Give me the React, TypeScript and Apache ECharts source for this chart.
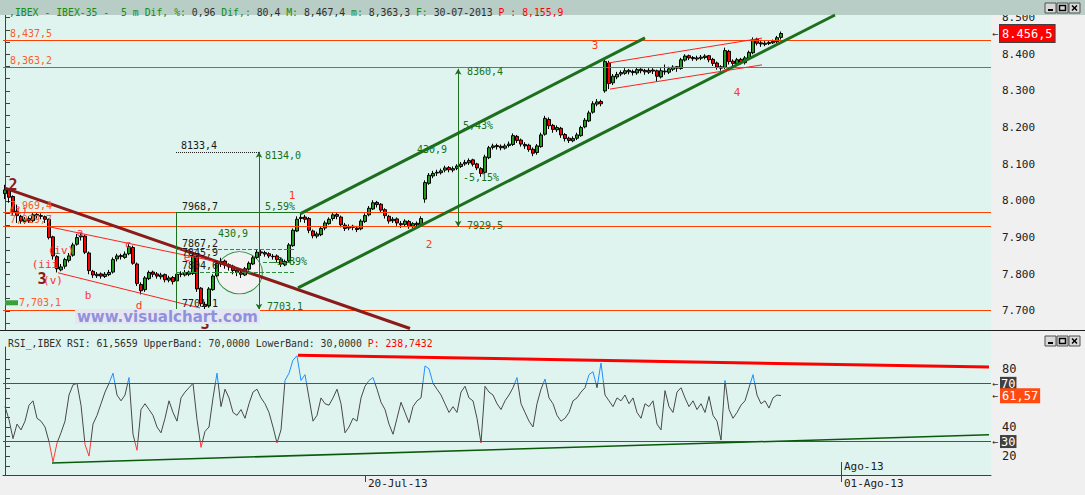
import React, { useEffect, useRef } from 'react';
import * as echarts from 'echarts';

const FONT = '"DejaVu Sans Mono", monospace';
const SLOTS = 247;

// x-axis labels (category index -> text)
const dateLabelIndex = [90, 209];
const dateLabels = ['20-Jul-13', '01-Ago-13'];
const monthLabelIndex = [209];
const monthLabels = ['Ago-13'];

// y-axis labels
const priceLabels = [7700, 7800, 7900, 8000, 8100, 8200, 8300, 8400, 8500];
const rsiLabels = [20, 40, 80];
const rsiMinorTicks = [86.67, 80, 73.33, 66.67, 60, 53.33, 46.67, 40, 33.33, 26.67, 20, 13.33];

// 5-minute candles: [open, close, low, high]
const candles: number[][] = [
  [8020, 8030, 8005, 8044], [8030, 8010, 7995, 8035], [8012, 7970, 7962, 8015], [7972, 7960, 7940, 7990],
  [7958, 7945, 7938, 7962], [7944, 7950, 7938, 7956], [7952, 7945, 7940, 7958], [7946, 7962, 7942, 7968],
  [7963, 7960, 7952, 7969], [7960, 7958, 7950, 7966], [7957, 7950, 7940, 7960], [7950, 7900, 7895, 7952],
  [7902, 7850, 7840, 7905], [7848, 7815, 7805, 7852], [7812, 7820, 7808, 7828], [7822, 7840, 7815, 7845],
  [7838, 7850, 7832, 7858], [7852, 7880, 7848, 7886], [7882, 7900, 7878, 7910], [7902, 7905, 7892, 7912],
  [7904, 7860, 7855, 7908], [7858, 7810, 7800, 7862], [7808, 7798, 7790, 7812], [7796, 7800, 7790, 7806],
  [7801, 7795, 7788, 7805], [7794, 7800, 7790, 7806], [7799, 7805, 7795, 7812], [7806, 7840, 7802, 7846],
  [7842, 7850, 7835, 7856], [7851, 7848, 7840, 7856], [7846, 7855, 7842, 7862], [7856, 7875, 7852, 7882],
  [7873, 7830, 7826, 7878], [7828, 7775, 7768, 7832], [7772, 7755, 7745, 7778], [7758, 7790, 7752, 7795],
  [7788, 7805, 7784, 7810], [7806, 7800, 7792, 7810], [7801, 7795, 7788, 7806], [7793, 7798, 7786, 7804],
  [7799, 7785, 7778, 7802], [7784, 7790, 7778, 7796], [7791, 7780, 7772, 7795], [7782, 7800, 7778, 7806],
  [7801, 7800, 7792, 7808], [7798, 7805, 7794, 7812], [7806, 7800, 7795, 7810], [7802, 7850, 7798, 7858],
  [7848, 7760, 7752, 7852], [7762, 7720, 7712, 7765], [7718, 7712, 7701, 7725], [7714, 7760, 7710, 7765],
  [7758, 7795, 7755, 7800], [7796, 7830, 7792, 7836], [7828, 7835, 7820, 7845], [7836, 7825, 7815, 7840],
  [7826, 7820, 7810, 7830], [7822, 7810, 7800, 7826], [7811, 7805, 7795, 7815], [7806, 7800, 7790, 7810],
  [7798, 7815, 7795, 7820], [7814, 7830, 7810, 7835], [7828, 7845, 7825, 7850], [7846, 7860, 7842, 7867],
  [7861, 7858, 7850, 7866], [7859, 7855, 7848, 7864], [7856, 7850, 7844, 7860], [7849, 7848, 7840, 7855],
  [7850, 7840, 7832, 7854], [7841, 7828, 7820, 7845], [7826, 7835, 7822, 7840], [7836, 7880, 7832, 7885],
  [7878, 7920, 7875, 7925], [7918, 7950, 7915, 7958], [7952, 7955, 7942, 7966], [7956, 7950, 7940, 7962],
  [7952, 7920, 7912, 7956], [7918, 7905, 7898, 7922], [7904, 7910, 7898, 7916], [7908, 7925, 7904, 7930],
  [7926, 7940, 7920, 7946], [7938, 7950, 7935, 7955], [7952, 7962, 7946, 7968], [7963, 7958, 7950, 7968],
  [7956, 7935, 7928, 7960], [7934, 7925, 7918, 7940], [7926, 7930, 7920, 7936], [7931, 7928, 7920, 7935],
  [7926, 7922, 7915, 7932], [7924, 7945, 7920, 7950], [7944, 7960, 7940, 7966], [7962, 7980, 7958, 7986],
  [7978, 7995, 7975, 8002], [7996, 7990, 7982, 8000], [7991, 7975, 7968, 7994], [7976, 7960, 7952, 7980],
  [7958, 7945, 7938, 7962], [7946, 7950, 7940, 7956], [7951, 7940, 7932, 7955], [7938, 7935, 7926, 7945],
  [7936, 7945, 7930, 7950], [7944, 7930, 7924, 7948], [7931, 7938, 7926, 7942], [7939, 7935, 7928, 7944],
  [7936, 7952, 7932, 7958], [8005, 8050, 7995, 8056], [8048, 8070, 8044, 8076], [8068, 8075, 8062, 8082],
  [8076, 8078, 8068, 8085], [8077, 8082, 8072, 8088], [8084, 8090, 8078, 8096], [8091, 8085, 8078, 8095],
  [8084, 8088, 8078, 8094], [8089, 8095, 8084, 8100], [8094, 8100, 8090, 8106], [8101, 8105, 8096, 8112],
  [8104, 8110, 8098, 8116], [8112, 8100, 8094, 8115], [8101, 8090, 8084, 8104], [8088, 8075, 8066, 8092],
  [8078, 8120, 8074, 8126], [8118, 8145, 8114, 8150], [8146, 8150, 8140, 8156], [8151, 8148, 8140, 8156],
  [8149, 8145, 8138, 8154], [8144, 8150, 8140, 8156], [8151, 8155, 8146, 8162], [8154, 8178, 8150, 8184],
  [8176, 8165, 8158, 8180], [8166, 8155, 8148, 8170], [8154, 8150, 8142, 8160], [8152, 8140, 8134, 8156],
  [8141, 8130, 8122, 8146], [8132, 8150, 8126, 8155], [8148, 8180, 8145, 8186], [8182, 8225, 8178, 8232],
  [8222, 8205, 8196, 8228], [8206, 8195, 8186, 8210], [8194, 8200, 8188, 8206], [8198, 8180, 8172, 8202],
  [8181, 8170, 8162, 8185], [8171, 8165, 8158, 8175], [8164, 8170, 8160, 8176], [8171, 8180, 8166, 8186],
  [8178, 8200, 8175, 8205], [8202, 8220, 8198, 8226], [8218, 8240, 8215, 8246], [8242, 8265, 8238, 8272],
  [8264, 8270, 8258, 8278], [8271, 8265, 8258, 8276], [8300, 8380, 8295, 8388], [8376, 8320, 8305, 8382],
  [8322, 8340, 8316, 8346], [8338, 8345, 8332, 8352], [8346, 8350, 8340, 8356], [8348, 8355, 8344, 8362],
  [8356, 8352, 8345, 8360], [8353, 8350, 8342, 8358], [8349, 8358, 8344, 8364], [8359, 8355, 8348, 8362],
  [8356, 8352, 8344, 8360], [8351, 8356, 8346, 8362], [8357, 8354, 8346, 8362], [8355, 8340, 8325, 8358],
  [8338, 8355, 8334, 8362], [8354, 8352, 8344, 8372], [8351, 8360, 8346, 8366], [8359, 8365, 8354, 8370],
  [8366, 8362, 8352, 8368], [8361, 8385, 8358, 8390], [8384, 8395, 8380, 8400], [8396, 8390, 8384, 8399],
  [8391, 8388, 8382, 8395], [8387, 8390, 8382, 8396], [8389, 8392, 8384, 8398], [8391, 8395, 8386, 8400],
  [8396, 8385, 8378, 8398], [8386, 8375, 8368, 8390], [8376, 8365, 8358, 8380], [8366, 8362, 8355, 8370],
  [8364, 8410, 8360, 8418], [8408, 8380, 8372, 8412], [8381, 8375, 8366, 8386], [8374, 8385, 8370, 8390],
  [8386, 8378, 8372, 8390], [8377, 8390, 8372, 8395], [8388, 8405, 8384, 8410], [8404, 8440, 8400, 8446],
  [8441, 8430, 8424, 8445], [8431, 8428, 8420, 8436], [8427, 8430, 8422, 8436], [8429, 8432, 8425, 8438],
  [8431, 8435, 8428, 8440], [8434, 8445, 8430, 8450], [8446, 8456.5, 8440, 8462],
];

// RSI values, one per candle
const rsiValues: number[] = [
  54, 45, 32, 42, 38, 44, 55, 58, 46, 44, 40, 30, 16, 29, 36, 44, 62, 69, 70, 55,
  28, 20, 42, 48, 56, 64, 70, 77, 62, 58, 62, 74, 35, 24, 52, 56, 52, 48, 40, 36,
  46, 58, 50, 44, 60, 64, 67, 70, 45, 26, 37, 40, 60, 77, 54, 66, 60, 50, 48, 52,
  46, 56, 64, 66, 60, 56, 50, 40, 29, 38, 72, 77, 86, 89, 72, 76, 60, 44, 48, 60,
  56, 55, 60, 66, 56, 36, 40, 46, 44, 60, 68, 72, 74, 66, 57, 52, 42, 35, 46, 57,
  50, 43, 54, 58, 60, 82, 80, 70, 66, 62, 56, 50, 54, 50, 64, 68, 60, 58, 46, 29,
  68, 64, 62, 56, 52, 58, 62, 67, 74, 56, 50, 44, 40, 56, 66, 73, 60, 56, 48, 44,
  46, 50, 58, 60, 64, 67, 76, 78, 67, 84, 62, 58, 54, 60, 58, 62, 56, 60, 50, 46,
  56, 54, 58, 42, 38, 65, 54, 50, 64, 67, 60, 54, 58, 52, 56, 50, 61, 48, 44, 31,
  72, 52, 46, 50, 55, 58, 67, 76, 62, 56, 58, 53, 60, 62, 61.57,
];

// horizontal price levels
const levelValues = [8437.5, 8363.2, 7969.4, 7929.7, 7703.1];
const levelLabels = ['8,437,5', '8,363,2', '7,969,4', '7,929,7', '7,703,1'];
const lastPrice = 8456.5;
const lastPriceLabel = '8.456,5';
const rsiUpper = 70;
const rsiLower = 30;
const rsiLast = 61.57;
const rsiLastLabel = '61,57';

// drawn lines, in [bar index, value]
const maroonLine = [[0, 8035], [101.25, 7652]];
const wedgeUpper = [[11.25, 7929], [53, 7834]];
const wedgeLower = [[13.25, 7804], [48.75, 7708]];
const channelUpper = [[73.75, 7964.5], [160, 8444.5]];
const channelLower = [[73.25, 7762.7], [207.5, 8507]];
const flagUpper = [[150.75, 8376], [189.25, 8444]];
const flagLower = [[151.25, 8305], [189.25, 8371]];
const measureA = [[63.5, 8134.0], [63.5, 7703.1]];
const measureB = [[113.3, 8360.4], [113.3, 7929.5]];
const boxTop = [[42.75, 7968.7], [73.5, 7968.7]];
const boxLeft = [[42.75, 7968.7], [42.75, 7703.1]];
const dotted8133 = [[42.75, 8133.4], [63.5, 8133.4]];
const dashLevels = [[[42.75, 7867.2], [72.5, 7867.2]], [[42.75, 7804.6], [72.5, 7804.6]], [[64.5, 7834], [72.5, 7834]]];
const ellipseCenter = [[58.6, 7804]];
const rsiResistance = [[73.25, 89.4], [246, 81.2]];
const rsiSupport = [[11.75, 15.3], [246, 34.6]];

// annotation texts [bar index, value, text]
const blackNotes: [number, number, string][] = [
  [44, 8150, '8133,4'], [44.25, 7984, '7968,7'], [44.25, 7885, '7867,2'],
  [44.25, 7858, '7845,9'], [44.25, 7823, '7804,6'], [44.25, 7719, '7701,1'],
];
const greenNotes: [number, number, string][] = [
  [65, 8125, '8134,0'], [65, 7984, '5,59%'], [53.25, 7910, '430,9'], [66.5, 7834, '-3,89%'],
  [65.5, 7711, '7703,1'], [115.5, 8352, '8360,4'], [115.5, 7932, '7929,5'],
  [114.5, 8207, '5,43%'], [114.5, 8063, '-5,15%'], [103, 8139, '430,9'],
];
const waveNotes: [number, number, string][] = [
  [71.75, 8014, '1'], [106, 7880, '2'], [147.5, 8423, '3'], [183, 8295, '4'],
];
const subWaveNotes: [number, number, string][] = [
  [3.25, 7975, '(i)'], [10, 7827, '(iii'], [14, 7864, '(iv)'], [12, 7784, '(v)'],
  [18.75, 7915, 'a'], [20.75, 7741, 'b'], [30.75, 7880, 'c'], [33.5, 7714, 'd'], [45.5, 7847, 'e'],
];
const majorWaveNotes: [number, number, string][] = [[2, 8044, '2'], [9.25, 7787, '3'], [50, 7665, '3']];

const note = (n: [number, number, string], color: string, size: number, pos: string, bold = false) => ({
  coord: [n[0], n[1]],
  symbol: 'circle',
  symbolSize: 0,
  itemStyle: { color: 'transparent' },
  label: {
    show: true, position: pos, distance: 0, formatter: n[2], color, fontSize: size,
    fontFamily: FONT, fontWeight: bold ? 'bold' : 'normal',
  },
});

const seg = (pts: number[][], color: string, width: number, type = 'solid', arrows = false) => [
  { coord: pts[0], symbol: arrows ? 'arrow' : 'none', symbolSize: [5, 6], lineStyle: { color, width, type } },
  { coord: pts[1], symbol: arrows ? 'arrow' : 'none', symbolSize: [5, 6] },
];

function buttons(y0: number) {
  const els: any[] = [];
  [1045, 1057, 1069].forEach((x, k) => {
    els.push({ type: 'rect', z: 20, shape: { x, y: y0, width: 11, height: 10 }, style: { fill: '#d8d8d8', stroke: '#505050', lineWidth: 1 } });
    if (k === 0) els.push({ type: 'rect', z: 21, shape: { x: x + 3, y: y0 + 6, width: 5, height: 2 }, style: { fill: '#000' } });
    if (k === 1) els.push({ type: 'rect', z: 21, shape: { x: x + 2.5, y: y0 + 2.5, width: 6, height: 5 }, style: { fill: 'none', stroke: '#000', lineWidth: 1.5 } });
    if (k === 2) {
      els.push({ type: 'line', z: 21, shape: { x1: x + 3, y1: y0 + 2.5, x2: x + 8, y2: y0 + 7.5 }, style: { stroke: '#000', lineWidth: 1.5 } });
      els.push({ type: 'line', z: 21, shape: { x1: x + 8, y1: y0 + 2.5, x2: x + 3, y2: y0 + 7.5 }, style: { stroke: '#000', lineWidth: 1.5 } });
    }
  });
  return els;
}

const hidden = { color: 'transparent', width: 0 };

export default function App() {
  const ref = useRef<HTMLDivElement>(null);
  useEffect(() => {
    if (!ref.current) return;
    const chart = echarts.init(ref.current, undefined, { renderer: 'svg' });
    const cats = Array.from({ length: SLOTS }, (_, i) => {
      const k = dateLabelIndex.indexOf(i);
      return k >= 0 ? dateLabels[k] : '';
    });
    const cats2 = Array.from({ length: SLOTS }, (_, i) => {
      const k = monthLabelIndex.indexOf(i);
      return k >= 0 ? monthLabels[k] : '';
    });
    const mainTicks = Array.from({ length: 26 }, (_, k) => 7666.67 + k * 33.333);
    const showCat = (_i: number, v: string) => v !== '';
    const lvlColor = '#ff4000';
    const tagRich = (bg: string, pad: number[], size: number, border?: string) => ({
      a: { color: '#303030', fontSize: 10, fontFamily: FONT, padding: [0, 2, 0, 0] },
      b: {
        color: '#ffffff', backgroundColor: bg, padding: pad, fontFamily: FONT, fontSize: size,
        borderColor: border || bg, borderWidth: border ? 1 : 0,
      },
    });

    const option: any = {
      animation: false,
      backgroundColor: '#dff4ee',
      title: [
        {
          left: 4, top: 2, z: 30,
          text: '{g|,IBEX - IBEX-35 -  5 m Dif, %:} {k|0,96} {g|Dif,:} {k|80,4} {g|M:} {k|8,467,4} {g|m:} {k|8,363,3} {g|F:} {k|30-07-2013} {r|P : 8,155,9}',
          textStyle: {
            fontFamily: FONT, fontSize: 9.8, fontWeight: 'normal', color: '#303030',
            rich: {
              g: { color: '#119011', fontFamily: FONT, fontSize: 9.8 },
              k: { color: '#303030', fontFamily: FONT, fontSize: 9.8 },
              r: { color: '#ff0000', fontFamily: FONT, fontSize: 9.8 },
            },
          },
        },
        {
          left: 3, top: 333, z: 30,
          text: '{k|RSI_,IBEX RSI: 61,5659 UpperBand: 70,0000 LowerBand: 30,0000} {r|P: 238,7432}',
          textStyle: {
            fontFamily: FONT, fontSize: 9.8, fontWeight: 'normal', color: '#303030',
            rich: {
              k: { color: '#303030', fontFamily: FONT, fontSize: 9.8 },
              r: { color: '#ff0000', fontFamily: FONT, fontSize: 9.8 },
            },
          },
        },
      ],
      grid: [
        { left: 3, top: 15, width: 988, height: 315 },
        { left: 3, top: 347, width: 988, height: 128 },
      ],
      xAxis: [
        { type: 'category', gridIndex: 0, data: cats, show: false, boundaryGap: true },
        {
          type: 'category', gridIndex: 1, data: cats, boundaryGap: true,
          axisLine: { show: true, lineStyle: { color: '#404040' } },
          axisTick: { show: true, interval: showCat, alignWithLabel: true, length: 7, lineStyle: { color: '#404040' } },
          axisLabel: { interval: showCat, align: 'left', padding: [0, 0, 0, 3], margin: 3, color: '#202020', fontFamily: FONT, fontSize: 11 },
          splitLine: { show: false },
        },
        {
          type: 'category', gridIndex: 1, data: cats2, boundaryGap: true, position: 'bottom',
          axisLine: { show: false },
          axisTick: { show: true, inside: true, interval: showCat, alignWithLabel: true, length: 13, lineStyle: { color: '#404040' } },
          axisLabel: { inside: true, interval: showCat, align: 'left', padding: [0, 0, 0, 3], margin: 3, color: '#202020', fontFamily: FONT, fontSize: 11 },
          splitLine: { show: false },
        },
        { type: 'value', gridIndex: 0, min: -0.5, max: SLOTS - 0.5, show: false },
        { type: 'value', gridIndex: 1, min: -0.5, max: SLOTS - 0.5, show: false },
      ],
      yAxis: [
        {
          type: 'value', gridIndex: 0, position: 'right', min: 7648, max: 8507, scale: true,
          axisLine: { show: true, lineStyle: { color: '#404040' } },
          axisTick: { show: true, customValues: mainTicks, length: 5, lineStyle: { color: '#404040' } },
          axisLabel: {
            customValues: priceLabels, margin: 11, color: '#202020', fontFamily: FONT, fontSize: 11,
            formatter: (v: number) => (v / 1000).toFixed(3),
          },
          splitLine: { show: false },
        },
        {
          type: 'value', gridIndex: 1, position: 'right', min: 7, max: 95,
          axisLine: { show: true, lineStyle: { color: '#404040' } },
          axisTick: { show: true, customValues: rsiMinorTicks, length: 5, lineStyle: { color: '#404040' } },
          axisLabel: { customValues: rsiLabels, margin: 11, color: '#202020', fontFamily: FONT, fontSize: 12 },
          splitLine: { show: false },
        },
      ],
      visualMap: {
        type: 'piecewise', show: false, seriesIndex: 3, dimension: 1,
        pieces: [
          { lt: 30, color: '#ff3a3a' },
          { gte: 30, lte: 70, color: '#484848' },
          { gt: 70, color: '#1e8fff' },
        ],
      },
      series: [
        {
          name: 'ellipse', type: 'scatter', xAxisIndex: 3, yAxisIndex: 0, data: ellipseCenter, z: 1, silent: true,
          symbol: 'circle', symbolSize: [46, 42],
          itemStyle: { color: '#f2f2f2', borderColor: '#2e8b3e', borderWidth: 1, opacity: 1 },
        },
        {
          name: 'IBEX', type: 'candlestick', xAxisIndex: 0, yAxisIndex: 0, data: candles, z: 3,
          barWidth: 3,
          itemStyle: { color: '#1f9a1f', color0: '#ff0000', borderColor: '#000000', borderColor0: '#000000', borderWidth: 1 },
        },
        {
          name: 'front', type: 'line', xAxisIndex: 3, yAxisIndex: 0, data: [], z: 4, silent: true,
          markLine: {
            silent: true, symbol: ['none', 'none'], label: { show: false },
            data: [
              ...levelValues.map((v, k) => ({
                yAxis: v,
                lineStyle: { color: lvlColor, width: 1, type: 'solid' },
                label: k === 4
                  ? {
                    show: true, position: 'insideStartTop', distance: 2, formatter: '{bx|}{t|' + levelLabels[k] + '}',
                    rich: {
                      bx: { backgroundColor: '#3aa03a', width: 13, height: 5, fontSize: 5 },
                      t: { color: '#ff5a2a', fontFamily: FONT, fontSize: 10, padding: [0, 0, 0, 1] },
                    },
                  }
                  : { show: true, position: 'insideStartTop', distance: 2, padding: [0, 0, 0, 5], formatter: levelLabels[k], color: '#ff5a2a', fontFamily: FONT, fontSize: 10 },
              })),
              {
                yAxis: lastPrice, lineStyle: hidden,
                label: {
                  show: true, position: 'end', distance: 1, formatter: '{a|←}{b|' + lastPriceLabel + '}',
                  rich: tagRich('#ff0000', [3, 2, 2, 2], 12, '#404040'),
                },
              },
              seg(maroonLine, '#8b1a1a', 3),
              seg(wedgeUpper, '#ff2020', 1),
              seg(wedgeLower, '#ff2020', 1),
              seg(channelUpper, '#1d6e1d', 3),
              seg(channelLower, '#1d6e1d', 3),
              seg(flagUpper, '#ff2020', 1),
              seg(flagLower, '#ff2020', 1),
              seg(measureA, '#1d6e1d', 1, 'solid', true),
              seg(measureB, '#1d6e1d', 1, 'solid', true),
              seg(boxTop, '#1d6e1d', 1),
              seg(boxLeft, '#1d6e1d', 1),
              seg(dotted8133, '#202020', 1, 'dotted'),
              ...dashLevels.map((d) => seg(d, '#2e8b3e', 1, 'dashed')),
            ],
          },
          markPoint: {
            silent: true,
            data: [
              ...blackNotes.map((n) => note(n, '#1a1a1a', 10, 'right')),
              ...greenNotes.map((n) => note(n, '#17701a', 10, 'right')),
              ...waveNotes.map((n) => note(n, '#ff3a1a', 11, 'inside')),
              ...subWaveNotes.map((n) => note(n, '#ff3030', 11, 'inside')),
              ...majorWaveNotes.map((n) => note(n, '#8b1a1a', 15, 'inside', true)),
            ],
          },
        },
        {
          name: 'RSI', type: 'line', xAxisIndex: 1, yAxisIndex: 1, data: rsiValues, z: 3,
          symbol: 'none', lineStyle: { width: 1 },
        },
        {
          name: 'rsiLines', type: 'line', xAxisIndex: 4, yAxisIndex: 1, data: [], z: 2, silent: true,
          markLine: {
            silent: true, symbol: ['none', 'none'], label: { show: false },
            data: [
              ...[rsiUpper, rsiLower].map((v) => ({
                yAxis: v, lineStyle: { color: '#505050', width: 1, type: 'solid' },
                label: {
                  show: true, position: 'end', distance: 1, formatter: '{a|←}{b|' + v + '}',
                  rich: tagRich('#404040', [1, 1, 0, 1], 12),
                },
              })),
              {
                yAxis: rsiLast, lineStyle: hidden,
                label: {
                  show: true, position: 'end', distance: 1, formatter: '{a|←}{b|' + rsiLastLabel + '}',
                  rich: tagRich('#ff4a10', [2, 2, 1, 2], 12),
                },
              },
              seg(rsiResistance, '#ff0000', 3),
              seg(rsiSupport, '#0a5a0a', 1.5),
            ],
          },
        },
      ],
      graphic: [
        { type: 'rect', z: 5, shape: { x: 0, y: 0, width: 1085, height: 15 }, style: { fill: '#b8cdc6' } },
        { type: 'rect', z: -1, shape: { x: 991, y: 15, width: 94, height: 460 }, style: { fill: '#f0f0f0' } },
        { type: 'rect', z: -1, shape: { x: 0, y: 475, width: 1085, height: 20 }, style: { fill: '#f0f0f0' } },
        { type: 'line', z: 20, shape: { x1: 0, y1: 330.5, x2: 1085, y2: 330.5 }, style: { stroke: '#202020', lineWidth: 1 } },
        {
          type: 'text', z: 20, x: 75, y: 309,
          style: {
            text: 'www.visualchart.com', font: 'bold 15px "DejaVu Sans", sans-serif',
            fill: '#8e92dc', backgroundColor: '#e6e6f2', padding: [0, 2, 0, 2],
          },
        },
        ...buttons(3),
        ...buttons(336),
      ],
    };
    chart.setOption(option);
    return () => chart.dispose();
  }, []);
  return <div ref={ref} style={{ position: 'fixed', left: 0, top: 0, width: 1085, height: 495 }} />;
}
